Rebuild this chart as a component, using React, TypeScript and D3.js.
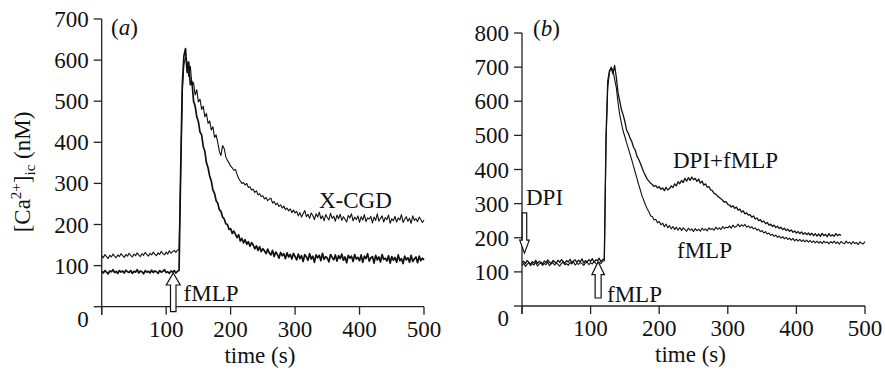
import React from "react";
import * as d3 from "d3";

// ---------- data: [Ca2+] (nM) sampled every STEP seconds from t = 0 ----------
const STEP = 2.5;

// Panel (a): normal cells (thick trace)
const aControl = [
  86, 82, 88, 84, 80, 87, 85, 90, 83, 86, 81, 88, 84, 87, 82, 89, 85, 83, 88, 81, 86, 84, 90, 82,
  87, 85, 80, 88, 84, 86, 82, 89, 83, 87, 85, 81, 88, 84, 86, 90, 83, 85, 81, 87, 84, 88, 82, 86,
  88, 330, 540, 610, 628, 570, 595, 540, 548, 500, 488, 462, 450, 425, 418, 390, 378, 350, 338, 318,
  306, 284, 276, 258, 252, 236, 232, 218, 214, 202, 200, 188,
  190, 178, 184, 176, 168, 175, 160, 166, 155, 163, 152, 158, 147, 156, 150, 141, 148, 137, 146, 134,
  141, 136, 129, 140, 131, 126, 137, 122, 133, 127, 118, 132, 124, 129, 117, 131, 121, 127, 116, 130, 122,
  114, 128, 117, 124, 110, 127, 121, 113, 129, 116, 123, 108, 126, 119, 125, 112, 130, 115, 122, 118,
  109, 127, 120, 114, 126, 111, 124, 117, 128, 113, 121, 107, 125, 118, 123, 110, 127, 116, 120, 112,
  126, 108, 123, 117, 129, 111, 119, 122, 106, 125, 114, 121, 109, 127, 115, 118, 111, 124, 106, 122,
  113, 120, 108, 126, 112, 117, 105, 123, 114, 119, 108, 125, 110, 116, 121, 107, 123, 112, 118, 114,
];

// Panel (a): X-CGD cells (thin trace)
const aXcgd = [
  124, 119, 127, 122, 117, 125, 121, 128, 123, 119, 126, 122, 129, 124, 120, 127, 123, 130, 125, 121,
  128, 124, 131, 126, 122, 129, 125, 132, 127, 123, 130, 126, 133, 128, 124, 131, 127, 135, 129, 126,
  133, 128, 136, 130, 134, 137, 132, 138,
  138, 320, 520, 590, 605, 595, 560, 585, 540, 545, 515, 528, 498, 505, 480, 488, 462, 470, 446, 452,
  430, 438, 412, 418, 400, 378, 368, 392, 385, 365, 356, 350, 342, 338, 332, 334, 322, 312, 306, 300,
  302, 296, 300, 290, 292, 284, 286, 278, 282, 272, 275, 268, 270, 262, 266, 258, 262, 264, 252, 256,
  248, 252, 244, 248, 240, 245, 236, 240, 233, 238, 229, 235, 228,
  232, 221, 229, 218, 226, 234, 219, 225, 215, 228, 222, 212, 226, 218, 230, 214, 221, 209, 224, 217,
  211, 227, 215, 220, 208, 223, 214, 225, 210, 219, 213, 206, 222, 216, 226, 209, 218, 212, 221, 205,
  219, 211, 224, 207, 216, 213, 220, 204, 218, 210, 226, 208, 215, 221, 206, 217, 212, 223, 203, 214,
  209, 220, 206, 216, 211, 224, 205, 213, 219, 208, 215, 203, 221, 210, 214, 207, 218, 212, 205, 211,
];

// Panel (b): fMLP alone
const bFmlp = [
  119, 125, 116, 122, 127, 118, 124, 120, 128, 117, 123, 126, 119, 125, 121, 129, 118, 124, 127, 120,
  126, 122, 117, 125, 128, 121, 124, 119, 127, 123, 130, 120, 125, 122, 128, 124, 119, 126, 129, 121,
  127, 123, 131, 125, 120, 128, 124, 132,
  132, 480, 640, 685, 700, 690, 665, 640, 595, 560, 535, 512, 496, 478, 462, 445, 428, 410, 392, 375,
  356, 340, 322, 310, 296, 285, 276, 264, 262, 252, 254, 244, 248, 238, 243, 232, 240, 229, 236, 226,
  233, 224, 231, 222, 230, 221, 229, 224, 219, 228, 222, 226, 218, 227, 221, 225, 219, 228, 222, 226,
  220, 229, 224, 227, 222, 231, 225, 229, 224, 233, 227, 231, 229,
  235, 228, 237, 231, 233, 240, 232, 238, 234, 239, 231, 235, 229, 232, 226, 229, 222, 225, 218, 221,
  214, 218, 211, 214, 207, 210, 204, 208, 201, 205, 199, 203, 197, 201, 195, 199, 193, 198, 191, 196,
  190, 195, 189, 194, 188, 193, 187, 192, 186, 191, 185, 190, 184, 189, 183, 190, 185, 188, 182, 189,
  184, 190, 183, 188, 181, 189, 185, 182, 190, 184, 187, 181, 189, 183, 186, 180, 188, 184, 182, 189,
];

// Panel (b): DPI + fMLP (recording ends at 465 s)
const bDpi = [
  127, 131, 124, 133, 128, 122, 130, 126, 134, 125, 131, 128, 123, 132, 127, 135, 129, 124, 133, 130,
  126, 134, 128, 136, 131, 125, 133, 129, 137, 127, 132, 135, 128, 134, 130, 138, 126, 133, 129, 136,
  131, 139, 128, 135, 133, 140, 130, 136,
  138, 500, 660, 690, 698, 680, 705, 670, 625, 600, 575, 560, 540, 515, 506, 492, 482, 466, 457, 440,
  430, 418, 405, 392, 382, 372, 366, 360, 356, 350, 353, 346, 350, 342, 346, 338, 348, 340, 344, 352,
  347, 358, 352, 364, 358, 368, 362, 374, 366, 376, 368, 378, 370, 374, 365, 372, 360, 366, 354, 358,
  348, 350, 340, 338, 330, 328, 322, 318, 314, 310, 304, 306, 298,
  296, 290, 294, 286, 290, 281, 284, 275, 279, 270, 273, 266, 268, 260, 264, 255, 258, 250, 253, 246,
  249, 241, 245, 237, 240, 233, 237, 230, 234, 227, 231, 224, 228, 221, 225, 219, 223, 216, 220, 214,
  218, 212, 217, 210, 215, 209, 214, 208, 213, 206, 212, 205, 211, 204, 213, 206, 210, 203, 212, 205,
  209, 204, 212, 206, 210, 207,
];

const xTicks = [0, 100, 200, 300, 400, 500];
const aYTicks = [0, 100, 200, 300, 400, 500, 600, 700];
const bYTicks = [0, 100, 200, 300, 400, 500, 600, 700, 800];

const FONT = "Liberation Serif, Times New Roman, DejaVu Serif, serif";
const FS = 23;

type Pt = [number, number];
const toPts = (vals: number[]): Pt[] => vals.map((v, i) => [i * STEP, v]);

function upArrow(cx: number, tip: number, bottom: number, headH: number, headW: number, shaftW: number) {
  const hw = headW / 2, sw = shaftW / 2;
  return `M${cx},${tip} L${cx + hw},${tip + headH} L${cx + sw},${tip + headH} L${cx + sw},${bottom} L${cx - sw},${bottom} L${cx - sw},${tip + headH} L${cx - hw},${tip + headH} Z`;
}
function downArrow(cx: number, tip: number, top: number, headH: number, headW: number, shaftW: number) {
  const hw = headW / 2, sw = shaftW / 2;
  return `M${cx},${tip} L${cx + hw},${tip - headH} L${cx + sw},${tip - headH} L${cx + sw},${top} L${cx - sw},${top} L${cx - sw},${tip - headH} L${cx - hw},${tip - headH} Z`;
}

const textStyle: React.CSSProperties = { fontFamily: FONT, fontSize: FS };

function Axes({ x, y, yTicks }: { x: d3.ScaleLinear<number, number>; y: d3.ScaleLinear<number, number>; yTicks: number[] }) {
  const x0 = x(0), y0 = y(0);
  const yMax = y(yTicks[yTicks.length - 1]);
  return (
    <g>
      <g stroke="#222" strokeWidth={1.3} fill="none">
        <line x1={x0} x2={x0} y1={yMax} y2={y0 + 8} />
        <line x1={x0} x2={x(500)} y1={y0} y2={y0} />
        {yTicks.map((t) => (
          <line key={"yt" + t} x1={x0 - 8} x2={x0} y1={y(t)} y2={y(t)} />
        ))}
        {xTicks.map((t) => (
          <line key={"xt" + t} x1={x(t)} x2={x(t)} y1={y0} y2={y0 + 8} />
        ))}
      </g>
      <g fill="#111" style={textStyle}>
        {yTicks.map((t) => (
          <text key={"yl" + t} x={x0 - 13} y={t === 0 ? y0 + 12 : y(t)} dy="0.35em" textAnchor="end">
            {t}
          </text>
        ))}
        {xTicks.filter((t) => t > 0).map((t) => (
          <text key={"xl" + t} x={x(t)} y={y0 + 30} textAnchor="middle">
            {t}
          </text>
        ))}
        <text x={(x(0) + x(500)) / 2 - 3} y={y0 + 56} textAnchor="middle">time (s)</text>
      </g>
    </g>
  );
}

export default function App() {
  // panel a scales
  const xa = d3.scaleLinear().domain([0, 500]).range([101.7, 424]);
  const ya = d3.scaleLinear().domain([0, 700]).range([306.7, 19]);
  // panel b scales
  const xb = d3.scaleLinear().domain([0, 500]).range([522, 865]);
  const yb = d3.scaleLinear().domain([0, 800]).range([306, 33]);

  const lineA = d3.line<Pt>().x((d) => xa(d[0])).y((d) => ya(d[1]));
  const lineB = d3.line<Pt>().x((d) => xb(d[0])).y((d) => yb(d[1]));

  return (
    <svg
      width={885}
      height={376}
      viewBox="0 0 885 376"
      style={{ position: "absolute", left: 0, top: 0, background: "#fff", fontFamily: FONT }}
    >
      <rect width={885} height={376} fill="#fff" />
      {/* ---------- Panel (a) ---------- */}
      <Axes x={xa} y={ya} yTicks={aYTicks} />
      <path d={lineA(toPts(aXcgd)) || ""} fill="none" stroke="#111" strokeWidth={1.1} strokeLinejoin="round" />
      <path d={lineA(toPts(aControl)) || ""} fill="none" stroke="#111" strokeWidth={1.7} strokeLinejoin="round" />
      <path
        d={upArrow(xa(111), ya(82), ya(0) + 5, 12, 14, 5.5)}
        fill="#fff"
        stroke="#111"
        strokeWidth={1.2}
      />
      <g fill="#111" style={textStyle}>
        <text x={111} y={35}>
          (<tspan fontStyle="italic">a</tspan>)
        </text>
        <text x={xa(337)} y={208}>X-CGD</text>
        <text x={xa(127)} y={301}>fMLP</text>
        <text transform="translate(30,172) rotate(-90)" textAnchor="middle">
          [Ca<tspan style={{ fontSize: 15 }} dy={-9}>2+</tspan>
          <tspan dy={9}>]</tspan>
          <tspan style={{ fontSize: 15 }} dy={5}>ic</tspan>
          <tspan dy={-5}> (nM)</tspan>
        </text>
      </g>

      {/* ---------- Panel (b) ---------- */}
      <Axes x={xb} y={yb} yTicks={bYTicks} />
      <path d={lineB(toPts(bFmlp)) || ""} fill="none" stroke="#111" strokeWidth={1.1} strokeLinejoin="round" />
      <path d={lineB(toPts(bDpi)) || ""} fill="none" stroke="#111" strokeWidth={1.3} strokeLinejoin="round" />
      <path
        d={upArrow(xb(111), yb(130), yb(0) - 8, 13, 12.5, 6)}
        fill="#fff"
        stroke="#111"
        strokeWidth={1.2}
      />
      <path
        d={downArrow(xb(3.6), yb(155), yb(273), 13, 9.5, 4.5)}
        fill="#fff"
        stroke="#111"
        strokeWidth={1.2}
      />
      <g fill="#111" style={textStyle}>
        <text x={533} y={36}>
          (<tspan fontStyle="italic">b</tspan>)
        </text>
        <text x={526} y={205}>DPI</text>
        <text x={607} y={302}>fMLP</text>
        <text x={673} y={168}>DPI+fMLP</text>
        <text x={677} y={258}>fMLP</text>
      </g>
    </svg>
  );
}
